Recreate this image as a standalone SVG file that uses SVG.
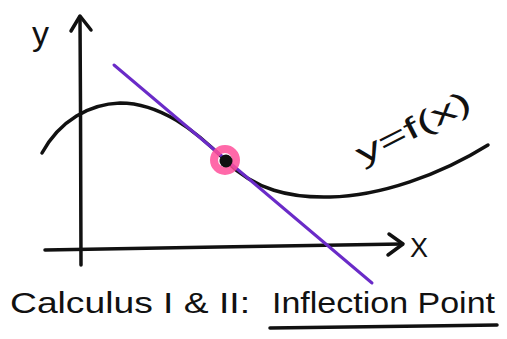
<svg xmlns="http://www.w3.org/2000/svg" width="507" height="339" viewBox="0 0 507 339">
<style>
.ink{fill:none;stroke:#111;stroke-width:3.5;stroke-linecap:round;stroke-linejoin:round}
.t{font-family:"Liberation Sans","DejaVu Sans",sans-serif;fill:#111}
</style>
<rect width="507" height="339" fill="#fff"/>
<g id="axes">
<path class="ink" d="M81,265 C80,200 81,100 80,17"/>
<path class="ink" d="M71,31 L80,16 L91,30"/>
<path class="ink" d="M45,250 C150,248 300,246 402,244"/>
<path class="ink" d="M389,234 L403,244 L388,255"/>
</g>
<text class="t" x="32" y="45" font-size="34">y</text>
<text class="t" x="410" y="257" font-size="27">X</text>
<path class="ink" stroke-width="3" d="M42,153 C60,120 90,104 120,103 C160,103 195,130 226,161 C255,190 290,198 330,197 C380,196 440,175 488,145"/>
<line x1="114" y1="65" x2="372" y2="283" stroke="#6a2bc8" stroke-width="3" stroke-linecap="round"/>
<circle cx="225" cy="160" r="11" fill="none" stroke="#ff4f9a" stroke-width="8" opacity="0.85"/>
<circle cx="226" cy="161" r="6.5" fill="#111"/>
<text class="t" x="0" y="0" font-size="30" transform="translate(362,165) rotate(-27)" textLength="125" lengthAdjust="spacingAndGlyphs">y=f(x)</text>
<text class="t" x="10" y="313" font-size="30" textLength="240" lengthAdjust="spacingAndGlyphs">Calculus I &amp; II:</text>
<text class="t" x="272" y="313" font-size="30" textLength="223" lengthAdjust="spacingAndGlyphs">Inflection Point</text>
<path class="ink" stroke-width="3" d="M270,328 C340,327 420,326 497,325"/>
</svg>
